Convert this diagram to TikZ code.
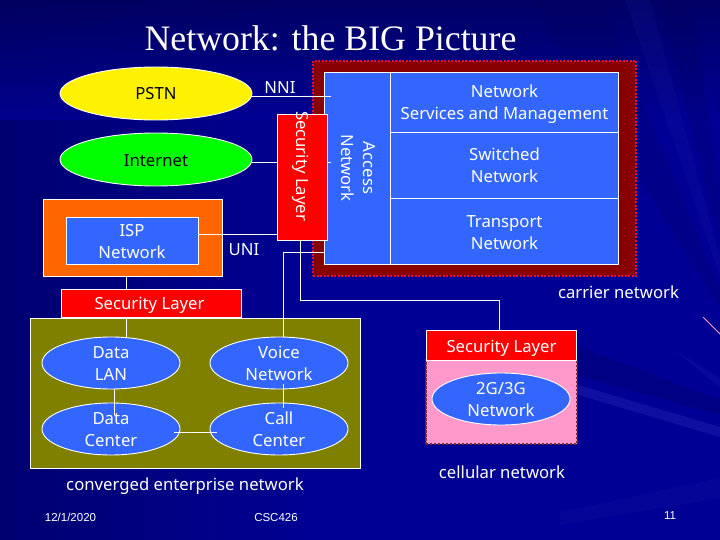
\documentclass[tikz,border=0pt]{standalone}
\usepackage{fontspec}
\setmainfont{Noto Sans}
\newfontfamily\titlefont{Liberation Serif}
\newfontfamily\footfont{Liberation Sans}
\usetikzlibrary{shapes.geometric}
\definecolor{bgblue}{HTML}{000094}
\definecolor{bgdark}{HTML}{000070}
\definecolor{bgnavy}{HTML}{00005A}
\definecolor{bgstreak}{HTML}{2A2AB4}
\definecolor{panelblue}{HTML}{3366FF}
\definecolor{carrier}{HTML}{880000}
\definecolor{dotred}{HTML}{E0103A}
\definecolor{secred}{HTML}{FF0000}
\definecolor{ispor}{HTML}{FF6600}
\definecolor{olivebox}{HTML}{808000}
\definecolor{pinkbox}{HTML}{FF99CC}
\definecolor{pinkedge}{HTML}{7A2A2A}
\newcommand\tl[2][0pt]{\raisebox{\dimexpr-6.25pt-#1\relax}[0pt][0pt]{\begin{tabular}{@{}c@{}}#2\end{tabular}}}
\tikzset{
  x=1pt,y=-1pt,
  wline/.style={draw=white,line width=0.9pt},
  lbl/.style={text=white,font=\fontsize{16.7}{22}\selectfont,inner sep=0pt},
  rbox/.style={rectangle,wline,inner sep=0pt,lbl},
  oval/.style={ellipse,wline,inner sep=0pt,lbl,fill=panelblue,minimum width=138pt,minimum height=52pt},
  bigoval/.style={oval,minimum width=192pt,minimum height=53pt,text=black},
  foot/.style={text=white,font=\footfont\fontsize{11.5}{13}\selectfont,inner sep=0pt},
}
\begin{document}
\begin{tikzpicture}
\useasboundingbox (0,0) rectangle (720,540);
% background
\fill[bgblue] (0,0) rectangle (720,540);
\shade[left color=bgdark,right color=bgblue] (0,0) rectangle (320,540);
\shade[top color=bgnavy,bottom color=bgblue,opacity=0.8] (0,0) rectangle (720,120);
\fill[bgnavy,opacity=0.2] (745,350) -- (530,0) -- (600,0) -- cycle;
\fill[bgnavy,opacity=0.2] (745,350) -- (660,0) -- (690,0) -- cycle;
\fill[bgstreak,opacity=0.12] (745,350) -- (625,0) -- (650,0) -- cycle;
\fill[bgnavy,opacity=0.25] (575,345) -- (720,400) -- (720,415) -- (575,375) -- cycle;
\fill[bgstreak,opacity=0.4] (575,384) -- (720,427) -- (720,437) -- (575,394) -- cycle;
\fill[bgstreak,opacity=0.2] (675,350) -- (720,378) -- (720,388) -- cycle;
\fill[bgstreak,opacity=0.12] (560,512) -- (720,478) -- (720,498) -- (560,525) -- cycle;
\coordinate (streakA) at (703,317);
\coordinate (streakB) at (720,334);
\draw[pinkbox,line width=0.8pt] (streakA) -- (streakB);
% title
\node[text=white,font=\titlefont\fontsize{35.8}{40}\selectfont,inner sep=0pt] (title) at (330.5,38) {Network: the BIG Picture};
% carrier network
\node[rectangle,fill=carrier,draw=dotred,line width=2pt,dash pattern=on 2pt off 1.5pt,minimum width=323pt,minimum height=215pt,inner sep=0pt] (carrierbox) at (474.5,168.5) {};
\node[rbox,fill=panelblue,minimum width=67pt,minimum height=192pt] (access) at (357.5,168.5) {};
\node[lbl,rotate=-90] (accesstext) at (359,168) {\tl{Access\\Network}};
\node[rbox,fill=panelblue,minimum width=228pt,minimum height=60pt] (services) at (504.5,102.5) {\tl[-0.5pt]{Network\\Services and Management}};
\node[rbox,fill=panelblue,minimum width=228pt,minimum height=66pt] (switched) at (504.5,165.5) {\tl[-0.5pt]{Switched\\Network}};
\node[rbox,fill=panelblue,minimum width=228pt,minimum height=66pt] (transport) at (504.5,231.5) {\tl[0.5pt]{Transport\\Network}};
\node[lbl] (carriertext) at (618.5,291.7) {\tl{carrier network}};
% ovals
\node[bigoval,fill=yellow] (pstn) at (156,93.5) {\tl{PSTN}};
\node[bigoval,fill=green] (internet) at (156,159.5) {\tl[0.5pt]{Internet}};
% ISP
\node[rbox,fill=ispor,minimum width=179pt,minimum height=77pt] (ispouter) at (132.5,237.5) {};
\node[rbox,fill=panelblue,minimum width=132pt,minimum height=47pt] (isp) at (132,240.5) {\tl[0.5pt]{ISP\\Network}};
% security vertical
\node[rbox,fill=secred,minimum width=50pt,minimum height=126pt] (secv) at (302,177) {};
\node[lbl,rotate=-90] (secvtext) at (303,166) {\tl{Security Layer}};
\node[lbl] (nni) at (280,87.3) {\tl[-0.5pt]{NNI}};
\node[lbl] (uni) at (244,249.3) {\tl[-0.5pt]{UNI}};
% enterprise
\node[rbox,fill=secred,minimum width=180pt,minimum height=28pt] (sech) at (151,303) {};
\node[lbl] (sechtext) at (149.5,303.5) {\tl{Security Layer}};
\node[rbox,fill=olivebox,minimum width=330pt,minimum height=150pt] (enterprise) at (195.5,393) {};
\node[oval] (datalan) at (111,363) {\tl{Data\\LAN}};
\node[oval] (voice) at (279,363) {\tl{Voice\\Network}};
\node[oval] (datacenter) at (111,429) {\tl{Data\\Center}};
\node[oval] (callcenter) at (279,429) {\tl{Call\\Center}};
\node[lbl] (convtext) at (185,484) {\tl{converged enterprise network}};
% cellular
\node[rectangle,fill=pinkbox,draw=pinkedge,line width=2pt,dash pattern=on 2.5pt off 1.5pt,minimum width=151pt,minimum height=84pt,inner sep=0pt] (cellbox) at (501,402) {};
\node[rbox,fill=secred,minimum width=150.5pt,minimum height=30pt] (secc) at (501.5,345) {\tl[1pt]{Security Layer}};
\node[oval] (cell) at (501,399) {\tl{2G/3G\\Network}};
\node[lbl] (celltext) at (502,472) {\tl{cellular network}};
% footer
\node[foot] (date) at (70.5,517) {12/1/2020};
\node[foot] (course) at (276,518) {CSC426};
\node[foot] (page) at (670,516) {11};
% connector end points
\coordinate (nniend) at (331,96);
\coordinate (intend) at (331,162);
\coordinate (intleft) at (327,162);
\coordinate (voiceup) at (283,252);
\coordinate (voicetop) at (283,337);
\coordinate (accessleft) at (324,252);
\coordinate (secdown) at (300,240);
\coordinate (secturn) at (300,300);
\coordinate (cellturn) at (499,300);
\coordinate (celltop) at (499,330);
\coordinate (ispright) at (198,234.5);
\coordinate (secleft) at (277,234.5);
\coordinate (inta) at (252,162);
\coordinate (intb) at (277,162);
\coordinate (pstna) at (252,96);
\coordinate (ispb) at (126.5,276);
\coordinate (secha) at (126.5,289);
\coordinate (sechb) at (126.5,317);
\coordinate (lantop) at (126.5,337);
\coordinate (lana) at (114.5,389);
\coordinate (lanb) at (114.5,415);
\coordinate (vca) at (283,384);
\coordinate (vcb) at (283,408);
\coordinate (hca) at (174,432);
\coordinate (hcb) at (217,432);
% connectors
\draw[wline] (pstna) -- (nniend);
\draw[wline] (inta) -- (intb);
\draw[wline] (intleft) -- (intend);
\draw[wline] (ispright) -- (secleft);
\draw[wline] (accessleft) -- (voiceup) -- (voicetop);
\draw[wline] (secdown) -- (secturn) -- (cellturn) -- (celltop);
\draw[wline] (ispb) -- (secha);
\draw[wline] (sechb) -- (lantop);
\draw[wline] (lana) -- (lanb);
\draw[wline] (vca) -- (vcb);
\draw[wline] (hca) -- (hcb);
\end{tikzpicture}
\end{document}
